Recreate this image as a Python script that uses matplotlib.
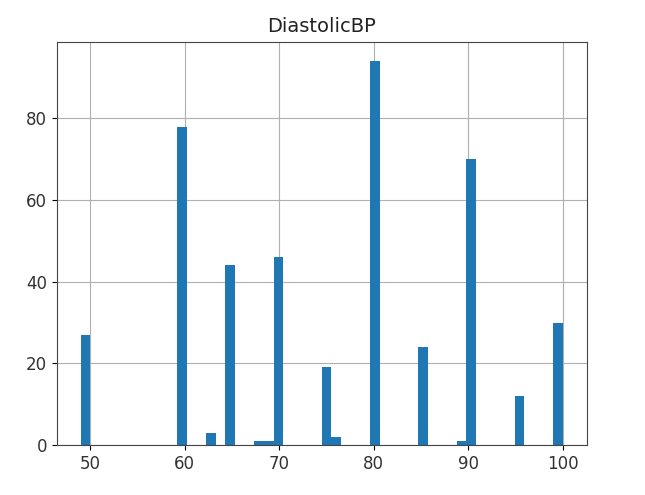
import numpy as np
import matplotlib
matplotlib.use("Agg")
import matplotlib.pyplot as plt

# DiastolicBP values and how many times each occurs
bp_values = [49, 60, 63, 65, 68, 69, 70, 75, 76, 80, 85, 89, 90, 95, 100]
bp_counts = [27, 78, 3, 44, 1, 1, 46, 19, 2, 94, 24, 1, 70, 12, 30]

fig = plt.figure(figsize=(6.45, 4.95), dpi=100)
ax = fig.add_axes([0.088, 0.101, 0.822, 0.814])

ax.hist(bp_values, bins=50, weights=bp_counts, color="#1f77b4")
ax.set_title("DiastolicBP", fontsize=14, color="#222222", pad=7)
ax.grid(True, color="#b0b0b0", linewidth=0.8)
ax.set_axisbelow(True)
ax.tick_params(labelsize=12, labelcolor="#333333")
ax.set_xticks([50, 60, 70, 80, 90, 100])
ax.set_yticks([0, 20, 40, 60, 80])
for s in ax.spines.values():
    s.set_color("#444444")

plt.savefig("out.png", dpi=100)
